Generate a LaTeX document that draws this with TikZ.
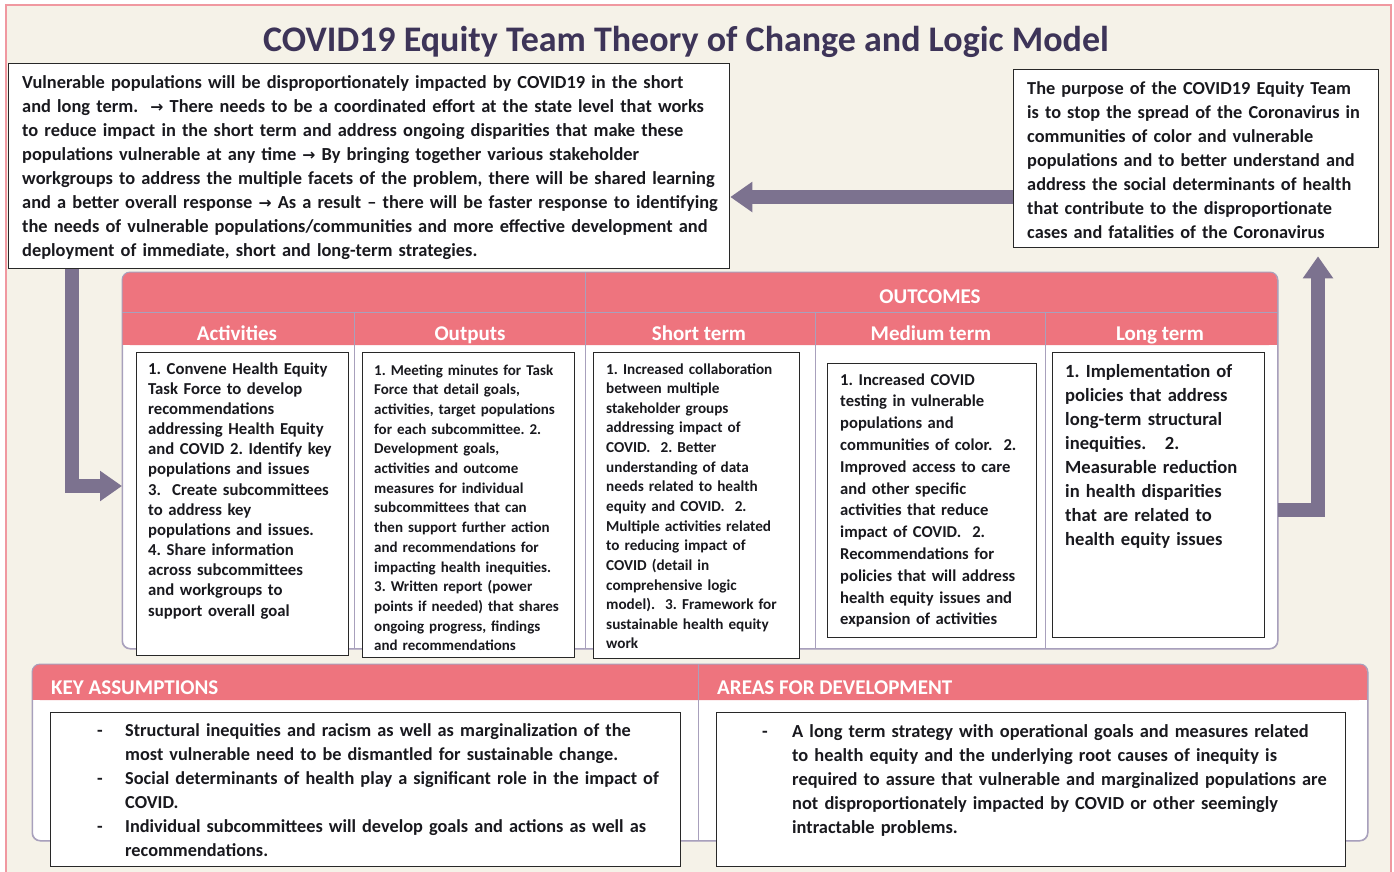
\documentclass[tikz,border=0pt]{standalone}
\usepackage{fontspec}
\setmainfont{Carlito}
\newfontfamily\arrowfont{DejaVu Sans}
\newcommand{\toarrow}{{\arrowfont\scalebox{0.85}{→}}}
\usetikzlibrary{arrows.meta}
\definecolor{bandPink}{RGB}{238,116,126}
\definecolor{creamBack}{RGB}{245,242,232}
\definecolor{framePink}{RGB}{240,152,160}
\definecolor{arrowGray}{RGB}{124,114,143}
\definecolor{frameLine}{RGB}{168,160,188}
\definecolor{titleInk}{RGB}{61,52,88}
\definecolor{inkBlack}{RGB}{25,25,30}
\definecolor{boxLine}{RGB}{40,40,40}
\frenchspacing

\begin{document}
\begin{tikzpicture}
[x=1pt,y=-1pt,%
  bigArrow/.style={-{Triangle[length=22pt,width=29pt]},line width=14pt,color=arrowGray},%
  textBox/.style={draw=boxLine,line width=1.3pt,fill=white,anchor=north west,inner sep=0pt},%
  bodyText/.style={anchor=base west,align=left,inner sep=0pt,text=inkBlack},%
  panelBox/.style={draw=frameLine,line width=1pt,fill=white,rounded corners=8pt,anchor=north west,inner sep=0pt},%
  headText/.style={anchor=base,inner sep=0pt,text=white,font=\bfseries\fontsize{21}{21}\selectfont}]
\useasboundingbox (0,0) rectangle (1394,871);
%% background and frame
\fill[white] (0,0) rectangle (1394,871);
\filldraw[fill=creamBack,draw=framePink,line width=1.5pt] (6,5) rectangle (1391,885);
\node[anchor=base,text=titleInk,font=\bfseries\fontsize{36}{36}\selectfont] (title) at (686,51)
  {COVID19 Equity Team Theory of Change and Logic Model};
%% top boxes
\node[textBox,minimum width=721pt,minimum height=205pt] (premiseBox) at (8,63) {};
\node[bodyText,text width=705pt,font=\bfseries\fontsize{18.4}{24}\selectfont] (premiseText) at (22,88)
  {Vulnerable populations will be disproportionately impacted by COVID19 in the short\\
   and long term.\ \ \toarrow{} There needs to be a coordinated effort at the state level that works\\
   to reduce impact in the short term and address ongoing disparities that make these\\
   populations vulnerable at any time \toarrow{} By bringing together various stakeholder\\
   workgroups to address the multiple facets of the problem, there will be shared learning\\
   and a better overall response \toarrow{} As a result -- there will be faster response to identifying\\
   the needs of vulnerable populations/communities and more effective development and\\
   deployment of immediate, short and long-term strategies.};
\node[textBox,minimum width=365pt,minimum height=178pt] (purposeBox) at (1013,69) {};
\node[bodyText,text width=350pt,font=\bfseries\fontsize{18.3}{24}\selectfont] (purposeText) at (1027,94)
  {The purpose of the COVID19 Equity Team\\
   is to stop the spread of the Coronavirus in\\
   communities of color and vulnerable\\
   populations and to better understand and\\
   address the social determinants of health\\
   that contribute to the disproportionate\\
   cases and fatalities of the Coronavirus};
%% logic model panel
\node[panelBox,minimum width=1155pt,minimum height=376pt] (logic) at (122,272) {};
\fill[bandPink,rounded corners=8pt] (122,272) rectangle (1277,345);
\fill[bandPink] (122,320) rectangle (1277,345);
\draw[frameLine,line width=1pt,rounded corners=8pt] (logic.north west) rectangle (logic.south east);
\draw[frameLine,line width=1pt] (122,312) -- (1277,312);
\draw[frameLine,line width=1pt] (585,272) -- (585,648);
\foreach \x in {354,815,1045}
{
  \draw[frameLine,line width=1pt] (\x,312) -- (\x,648);
}
\node[headText] (outcomesHead) at (930,303) {OUTCOMES};
\foreach \colname/\x in {Activities/237, Outputs/470, Short term/699, Medium term/931, Long term/1160}
{
  \node[headText] (head\x) at (\x,340) {\colname};
}
%% column boxes
\node[textBox,minimum width=212pt,minimum height=303pt] (activityBox) at (136,352) {};
\node[bodyText,text width=205pt,font=\bfseries\fontsize{16.7}{20.17}\selectfont] (activityText) at (148,374)
  {1. Convene Health Equity\\
   Task Force to develop\\
   recommendations\\
   addressing Health Equity\\
   and COVID 2. Identify key\\
   populations and issues\\
   3.\ \ Create subcommittees\\
   to address key\\
   populations and issues.\\
   4. Share information\\
   across subcommittees\\
   and workgroups to\\
   support overall goal};
\node[textBox,minimum width=212pt,minimum height=305pt] (outputBox) at (362,352) {};
\node[bodyText,text width=205pt,font=\bfseries\fontsize{15}{19.7}\selectfont] (outputText) at (374,375)
  {1. Meeting minutes for Task\\
   Force that detail goals,\\
   activities, target populations\\
   for each subcommittee. 2.\\
   Development goals,\\
   activities and outcome\\
   measures for individual\\
   subcommittees that can\\
   then support further action\\
   and recommendations for\\
   impacting health inequities.\\
   3. Written report (power\\
   points if needed) that shares\\
   ongoing progress, findings\\
   and recommendations};
\node[textBox,minimum width=206pt,minimum height=306pt] (shortBox) at (593,352) {};
\node[bodyText,text width=200pt,font=\bfseries\fontsize{15.2}{19.64}\selectfont] (shortText) at (606,374)
  {1. Increased collaboration\\
   between multiple\\
   stakeholder groups\\
   addressing impact of\\
   COVID.\ \ 2. Better\\
   understanding of data\\
   needs related to health\\
   equity and COVID.\ \ 2.\\
   Multiple activities related\\
   to reducing impact of\\
   COVID (detail in\\
   comprehensive logic\\
   model).\ \ 3. Framework for\\
   sustainable health equity\\
   work};
\node[textBox,minimum width=209pt,minimum height=274pt] (mediumBox) at (827,363) {};
\node[bodyText,text width=200pt,font=\bfseries\fontsize{16.6}{21.8}\selectfont] (mediumText) at (840,385)
  {1. Increased COVID\\
   testing in vulnerable\\
   populations and\\
   communities of color.\ \ 2.\\
   Improved access to care\\
   and other specific\\
   activities that reduce\\
   impact of COVID.\ \ 2.\\
   Recommendations for\\
   policies that will address\\
   health equity issues and\\
   expansion of activities};
\node[textBox,minimum width=212pt,minimum height=285pt] (longBox) at (1052,352) {};
\node[bodyText,text width=200pt,font=\bfseries\fontsize{18.6}{24}\selectfont] (longText) at (1065,377)
  {1. Implementation of\\
   policies that address\\
   long-term structural\\
   inequities.\ \ \ 2.\\
   Measurable reduction\\
   in health disparities\\
   that are related to\\
   health equity issues};
%% assumptions and development panel
\node[panelBox,minimum width=1335pt,minimum height=176pt] (lowerPanel) at (32,664) {};
\fill[bandPink,rounded corners=8pt] (32,664) rectangle (1367,700);
\fill[bandPink] (32,685) rectangle (1367,700);
\draw[frameLine,line width=1pt,rounded corners=8pt] (lowerPanel.north west) rectangle (lowerPanel.south east);
\draw[frameLine,line width=1pt] (698,664) -- (698,840);
\node[headText,anchor=base west] (assumeHead) at (51,694) {KEY ASSUMPTIONS};
\node[headText,anchor=base west] (developHead) at (717,694) {AREAS FOR DEVELOPMENT};
\node[textBox,minimum width=630pt,minimum height=154pt] (assumeBox) at (50,712) {};
\node[bodyText,text width=600pt,font=\bfseries\fontsize{18.3}{24}\selectfont] (assumeText) at (97,736)
  {\makebox[28pt][l]{-}Structural inequities and racism as well as marginalization of the\\
   \hspace*{28pt}most vulnerable need to be dismantled for sustainable change.\\
   \makebox[28pt][l]{-}Social determinants of health play a significant role in the impact of\\
   \hspace*{28pt}COVID.\\
   \makebox[28pt][l]{-}Individual subcommittees will develop goals and actions as well as\\
   \hspace*{28pt}recommendations.};
\node[textBox,minimum width=629pt,minimum height=154pt] (developBox) at (716,712) {};
\node[bodyText,text width=600pt,font=\bfseries\fontsize{18.4}{24}\selectfont] (developText) at (762,737)
  {\makebox[30pt][l]{-}A long term strategy with operational goals and measures related\\
   \hspace*{30pt}to health equity and the underlying root causes of inequity is\\
   \hspace*{30pt}required to assure that vulnerable and marginalized populations are\\
   \hspace*{30pt}not disproportionately impacted by COVID or other seemingly\\
   \hspace*{30pt}intractable problems.};
%% arrows
\coordinate (topRow) at (0,197);
\coordinate (leftBend) at (72,486);
\coordinate (rightBend) at (1318,510);
\draw[bigArrow] (purposeBox.west |- topRow) -- (premiseBox.east |- topRow);
\draw[bigArrow] (premiseBox.south -| leftBend) |- (logic.west |- leftBend);
\draw[bigArrow,shorten >=8pt] (logic.east |- rightBend) -| (purposeBox.south -| rightBend);
\end{tikzpicture}
\end{document}
